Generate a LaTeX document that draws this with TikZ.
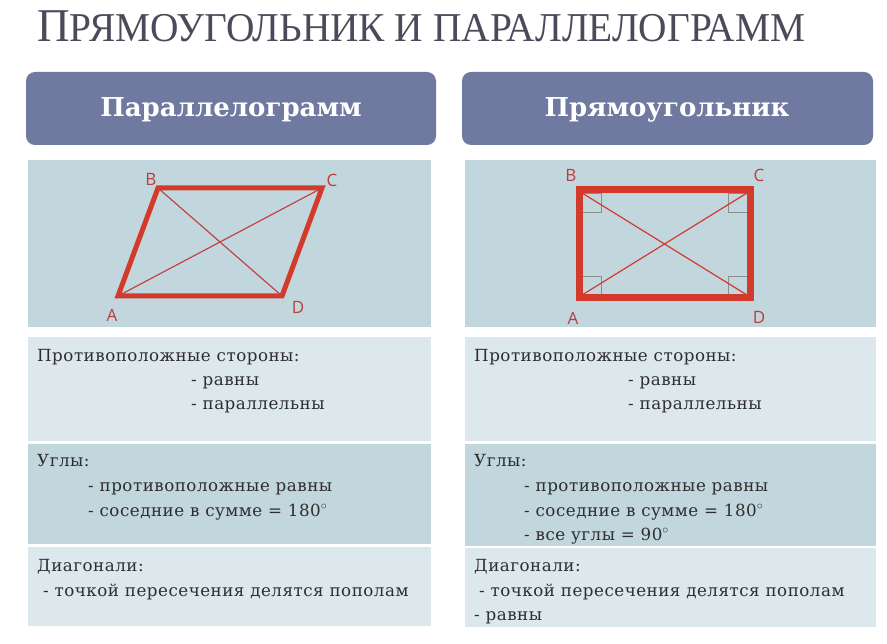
\documentclass[tikz,border=0pt]{standalone}
\usepackage{fontspec}
\setmainfont{DejaVu Serif}
\newfontfamily\titlefont{Liberation Serif}
\newfontfamily\labelfont{Open Sans}
\newfontfamily\bodyfont[LetterSpace=3]{DejaVu Serif}
\usetikzlibrary{calc}
\definecolor{hdr}{RGB}{112,121,160}
\definecolor{panel}{RGB}{194,214,221}
\definecolor{lite}{RGB}{221,232,236}
\definecolor{redl}{RGB}{210,58,44}
\definecolor{redd}{RGB}{190,70,70}
\definecolor{lbl}{RGB}{184,64,60}
\definecolor{ttl}{RGB}{74,74,90}
\definecolor{mark}{RGB}{140,140,140}
\tikzset{
  hdrbox/.style={fill=hdr, rounded corners=9pt, inner sep=0pt},
  panelbox/.style={fill=panel, inner sep=0pt},
  litebox/.style={fill=lite, inner sep=0pt},
  hdrtext/.style={text=white, font=\bfseries\fontsize{26}{28}\selectfont},
  body/.style={anchor=base west, inner sep=0pt, text=black!82, font=\bodyfont\fontsize{16.7}{19}\selectfont},
  vlabel/.style={text=lbl, font=\labelfont\fontsize{17}{20}\selectfont, inner sep=0pt},
  thickside/.style={draw=redl, line width=5pt, line join=miter},
  diag/.style={draw=redd, line width=1.2pt},
  rmark/.style={draw=mark, line width=0.8pt}
}
\begin{document}
\begin{tikzpicture}[x=1pt,y=-1pt]
\useasboundingbox[fill=white] (0,0) rectangle (887,644);
% title
\node[anchor=base west, inner sep=0pt, text=ttl, font=\titlefont] (title) at (37,42)
  {\scalebox{0.96}[1]{\fontsize{47}{50}\selectfont П\fontsize{41}{44}\selectfont РЯМОУГОЛЬНИК И ПАРАЛЛЕЛОГРАММ}};
% headers
\path[hdrbox] (26,72) rectangle (436,145);
\path[hdrbox] (462,72) rectangle (873,145);
\node[hdrtext] (h1) at (231,110) {Параллелограмм};
\node[hdrtext] (h2) at (667,110) {Прямоугольник};
% panels
\path[panelbox] (28,160) rectangle (431,327);
\path[panelbox] (465,160) rectangle (876,327);
\path[litebox] (28,337) rectangle (431,441);
\path[panelbox] (28,444) rectangle (431,544);
\path[litebox] (28,547) rectangle (431,626);
\path[litebox] (465,337) rectangle (876,441);
\path[panelbox] (465,444) rectangle (876,546);
\path[litebox] (465,548) rectangle (876,627);
% parallelogram
\coordinate (pA) at (118,296);
\coordinate (pB) at (158,188);
\coordinate (pC) at (322,188);
\coordinate (pD) at (282,296);
\draw[diag] (pA) -- (pC);
\draw[diag] (pB) -- (pD);
\draw[thickside] (pA) -- (pB) -- (pC) -- (pD) -- cycle;
\node[vlabel] (lA) at (112,315) {A};
\node[vlabel] (lB) at (151,179) {B};
\node[vlabel] (lC) at (332,180) {C};
\node[vlabel] (lD) at (298,307) {D};
% rectangle
\coordinate (rA) at (579,298);
\coordinate (rB) at (579,190);
\coordinate (rC) at (750,190);
\coordinate (rD) at (750,298);
\draw[rmark] ($(rB)+(3,3)$) rectangle ++(19,19);
\draw[rmark] ($(rC)+(-3,3)$) rectangle ++(-19,19);
\draw[rmark] ($(rA)+(3,-3)$) rectangle ++(19,-19);
\draw[rmark] ($(rD)+(-3,-3)$) rectangle ++(-19,-19);
\draw[diag, draw=redl] ($(rB)+(3,3)$) -- ($(rD)+(-3,-3)$);
\draw[diag, draw=redl] ($(rA)+(3,-3)$) -- ($(rC)+(-3,3)$);
\draw[thickside, line width=7pt] (rA) -- (rB) -- (rC) -- (rD) -- cycle;
\node[vlabel] (mA) at (573,318) {A};
\node[vlabel] (mB) at (571,175) {B};
\node[vlabel] (mC) at (759,175) {C};
\node[vlabel] (mD) at (759,317) {D};
% left texts
\node[body] (t1) at (37,362) {Противоположные стороны:};
\node[body] (t2) at (191,386) {- равны};
\node[body] (t3) at (191,410) {- параллельны};
\node[body] (t4) at (37,467) {Углы:};
\node[body] (t5) at (88,491) {- противоположные равны};
\node[body] (t6) at (88,516) {- соседние в сумме = 180$^\circ$};
\node[body] (t7) at (37,571) {Диагонали:};
\node[body] (t8) at (43,596) {- точкой пересечения делятся пополам};
% right texts
\node[body] (u1) at (474,362) {Противоположные стороны:};
\node[body] (u2) at (628,386) {- равны};
\node[body] (u3) at (628,410) {- параллельны};
\node[body] (u4) at (474,467) {Углы:};
\node[body] (u5) at (524,491) {- противоположные равны};
\node[body] (u6) at (524,516) {- соседние в сумме = 180$^\circ$};
\node[body] (u7) at (524,540) {- все углы = 90$^\circ$};
\node[body] (u8) at (474,571) {Диагонали:};
\node[body] (u9) at (479,596) {- точкой пересечения делятся пополам};
\node[body] (u10) at (474,620) {- равны};
\end{tikzpicture}
\end{document}
